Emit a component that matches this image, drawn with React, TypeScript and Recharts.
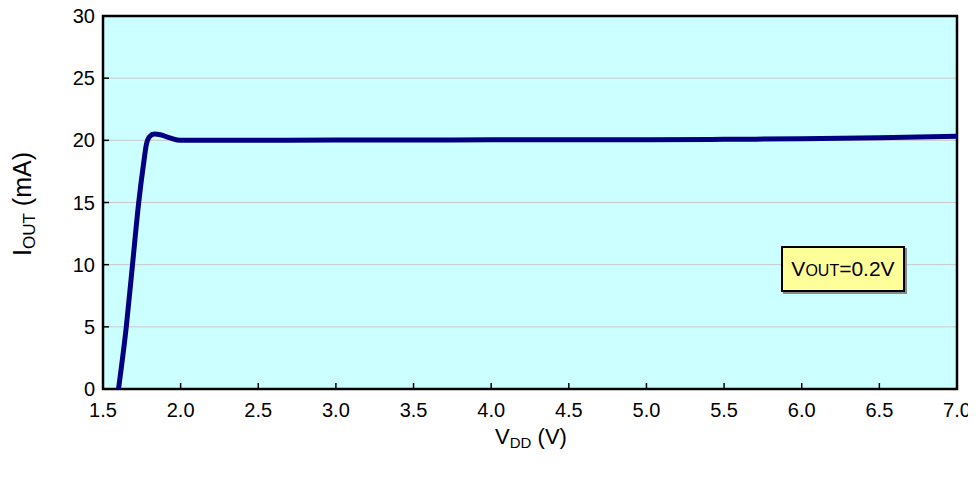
import { LineChart, Line, XAxis, YAxis, CartesianGrid, ReferenceArea } from "recharts"

const vdd = [1.6, 1.65, 1.69, 1.73, 1.76, 1.78, 1.8, 1.83, 1.87, 1.93, 2.0, 2.5, 3.0, 3.5, 4.0, 4.5, 5.0, 5.5, 6.0, 6.5, 7.0]
const iout = [0, 5, 10, 15, 18, 19.7, 20.3, 20.5, 20.45, 20.2, 20.0, 20.0, 20.02, 20.03, 20.04, 20.05, 20.05, 20.08, 20.12, 20.2, 20.32]
const xTicks = [1.5, 2.0, 2.5, 3.0, 3.5, 4.0, 4.5, 5.0, 5.5, 6.0, 6.5, 7.0]
const yTicks = [0, 5, 10, 15, 20, 25, 30]

const data = vdd.map((v, i) => ({ vdd: v, iout: iout[i] }))

const font = "'Liberation Sans', Arial, sans-serif"

function YTick(props: any) {
  const { x, y, payload } = props
  return (
    <g>
      <line x1={x + 8} x2={x + 14} y1={y} y2={y} stroke="#000" strokeWidth={1.5} />
      <text x={x} y={y} dy={7} textAnchor="end" fontSize={20} fill="#000" fontFamily={font}>
        {payload.value}
      </text>
    </g>
  )
}

function XTick(props: any) {
  const { x, y, payload } = props
  return (
    <g>
      <line x1={x} x2={x} y1={y - 22} y2={y - 28} stroke="#000" strokeWidth={1.5} />
      <text x={x} y={y} dy={6} textAnchor="middle" fontSize={20} fill="#000" fontFamily={font}>
        {payload.value.toFixed(1)}
      </text>
    </g>
  )
}

export default function App() {
  return (
    <div style={{ margin: -8, position: "relative", width: 976, height: 477, background: "#fff", fontFamily: font }}>
      <LineChart width={976} height={477} data={data} margin={{ top: 16, right: 19, bottom: 0, left: 0 }}>
        <CartesianGrid horizontal vertical={false} stroke="#c8c8c8" fill="#ccffff" />
        <XAxis
          dataKey="vdd"
          type="number"
          domain={[1.5, 7.0]}
          ticks={xTicks}
          tickSize={0}
          tickMargin={22}
          tickLine={false}
          axisLine={false}
          tick={<XTick />}
          height={88}
          interval={0}
        />
        <YAxis
          type="number"
          domain={[0, 30]}
          ticks={yTicks}
          tickSize={0}
          tickMargin={8}
          tickLine={false}
          axisLine={false}
          tick={<YTick />}
          width={103}
          interval={0}
        />
        <ReferenceArea x1={1.5} x2={7.0} y1={0} y2={30} fill="none" fillOpacity={0} stroke="#000" strokeWidth={2.5} ifOverflow="visible" />
        <Line
          dataKey="iout"
          type="monotone"
          stroke="#000080"
          strokeWidth={5}
          dot={false}
          isAnimationActive={false}
        />
      </LineChart>
      <svg width={976} height={477} style={{ position: "absolute", left: 0, top: 0, pointerEvents: "none" }}>
        <text transform="translate(31 204) rotate(-90)" textAnchor="middle" fontSize={25} fontFamily={font} fill="#000">
          <tspan>I</tspan>
          <tspan fontSize={17} dy={4}>OUT</tspan>
          <tspan dy={-4}> (mA)</tspan>
        </text>
        <text x={531} y={444} textAnchor="middle" fontSize={22} fontFamily={font} fill="#000">
          <tspan>V</tspan>
          <tspan fontSize={15} dy={4}>DD</tspan>
          <tspan dy={-4}> (V)</tspan>
        </text>
      </svg>
      <div
        style={{
          position: "absolute",
          left: 781,
          top: 246,
          width: 124,
          height: 46,
          boxSizing: "border-box",
          background: "#ffff99",
          border: "2px solid #000",
          boxShadow: "2px 2px 0 #888",
          display: "flex",
          alignItems: "center",
          justifyContent: "center",
          color: "#000",
          whiteSpace: "nowrap",
        }}
      >
        <span style={{ fontSize: 21 }}>
          V<span style={{ fontSize: 16 }}>OUT</span>=0.2V
        </span>
      </div>
    </div>
  )
}
